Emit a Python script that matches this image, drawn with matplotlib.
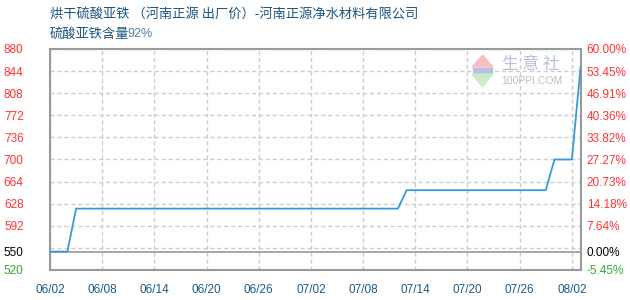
import matplotlib
matplotlib.use('Agg')
import matplotlib.pyplot as plt
from matplotlib.patches import Polygon, Rectangle

plt.rcParams['font.family'] = ['Noto Sans CJK SC', 'DejaVu Sans']

title = '烘干硫酸亚铁 （河南正源 出厂价）-河南正源净水材料有限公司'
subtitle = '硫酸亚铁含量'
purity = '92%'

# price change points, days counted from 06/02
days = [0, 2, 3, 40, 41, 57, 58, 60, 61]
prices = [550, 550, 620, 620, 650, 650, 700, 700, 850]

date_labels = ['06/02', '06/08', '06/14', '06/20', '06/26', '07/02',
               '07/08', '07/14', '07/20', '07/26', '08/02']
price_ticks = [880, 844, 808, 772, 736, 700, 664, 628, 592, 550, 520]
grid_prices = [880, 844, 808, 772, 736, 700, 664, 628, 592, 556]
base_price = 550

W, H = 630, 300
fig = plt.figure(figsize=(W / 100, H / 100), dpi=100)
ax = fig.add_axes([50 / W, 1 - 270 / H, 531 / W, 221 / H])

ax.set_xlim(0, 61.05)
ax.set_ylim(520, 880)

# grid
for g in grid_prices:
    ax.axhline(g, color='#cccccc', lw=1, ls=(0, (3, 2)), zorder=1)
xt = list(range(0, 61, 6))
for x in xt:
    ax.axvline(x, color='#cccccc', lw=1, ls=(0, (3, 2)), zorder=1)
ax.axhline(base_price, color='#999999', lw=1.2, zorder=2)

ax.plot(days, prices, color='#3a9ad9', lw=1.3, zorder=3)

for s in ax.spines.values():
    s.set_color('#999999')
    s.set_linewidth(1.5)

ax.set_xticks(xt)
ax.set_xticklabels(date_labels, color='#1b5a8c', fontsize=8.5,
                   family=['Liberation Sans'])
ax.tick_params(axis='x', length=0, pad=10)

def tick_color(p):
    if p == base_price:
        return 'black'
    if p < base_price:
        return '#33aa33'
    return '#ff3333'

ax.set_yticks(price_ticks)
ax.set_yticklabels([str(p) for p in price_ticks], fontsize=8.5,
                   family=['Liberation Sans'])
ax.tick_params(axis='y', length=0, pad=19)
for lab, p in zip(ax.get_yticklabels(), price_ticks):
    lab.set_color(tick_color(p))

ax2 = ax.twinx()
ax2.set_ylim(ax.get_ylim())
ax2.set_yticks(price_ticks)
ax2.set_yticklabels(['%.2f%%' % ((p - base_price) / base_price * 100)
                     for p in price_ticks], fontsize=8.5,
                    family=['Liberation Sans'])
ax2.tick_params(axis='y', length=0, pad=4)
for lab, p in zip(ax2.get_yticklabels(), price_ticks):
    lab.set_color(tick_color(p))
for s in ax2.spines.values():
    s.set_visible(False)

# titles
fig.text(50 / W, 1 - 15 / H, title, fontsize=9.5, color='#1b5583',
         va='center', ha='left')
fig.text(50 / W, 1 - 34 / H, subtitle, fontsize=9.5, color='#1b5583',
         va='center', ha='left')
fig.text(127 / W, 1 - 34 / H, purity, fontsize=9, color='#5b7fa3',
         va='center', ha='left', family=['Liberation Sans'])

# 100ppi watermark
def fp(x, y):
    return (x / W, 1 - y / H)

fig.add_artist(Polygon([fp(472, 67), fp(493, 67), fp(482.5, 55)],
                       closed=True, color='#f7c0c0', transform=fig.transFigure,
                       zorder=5))
fig.add_artist(Rectangle(fp(473, 73), 19 / W, 5 / H, color='#b8c2dc',
                         transform=fig.transFigure, zorder=5))
fig.add_artist(Polygon([fp(472, 74), fp(493, 74), fp(482.5, 87)],
                       closed=True, color='#c8ecc8', transform=fig.transFigure,
                       zorder=5))
fig.text(*fp(531, 65), '生 意 社', fontsize=12, color='#b4bfda',
         ha='center', va='center', zorder=5)
fig.text(*fp(532, 81), '100PPI.COM', fontsize=7.5, color='#bdbdbd',
         ha='center', va='center', family=['Liberation Sans'], zorder=5)

fig.savefig('out.png', dpi=100)
